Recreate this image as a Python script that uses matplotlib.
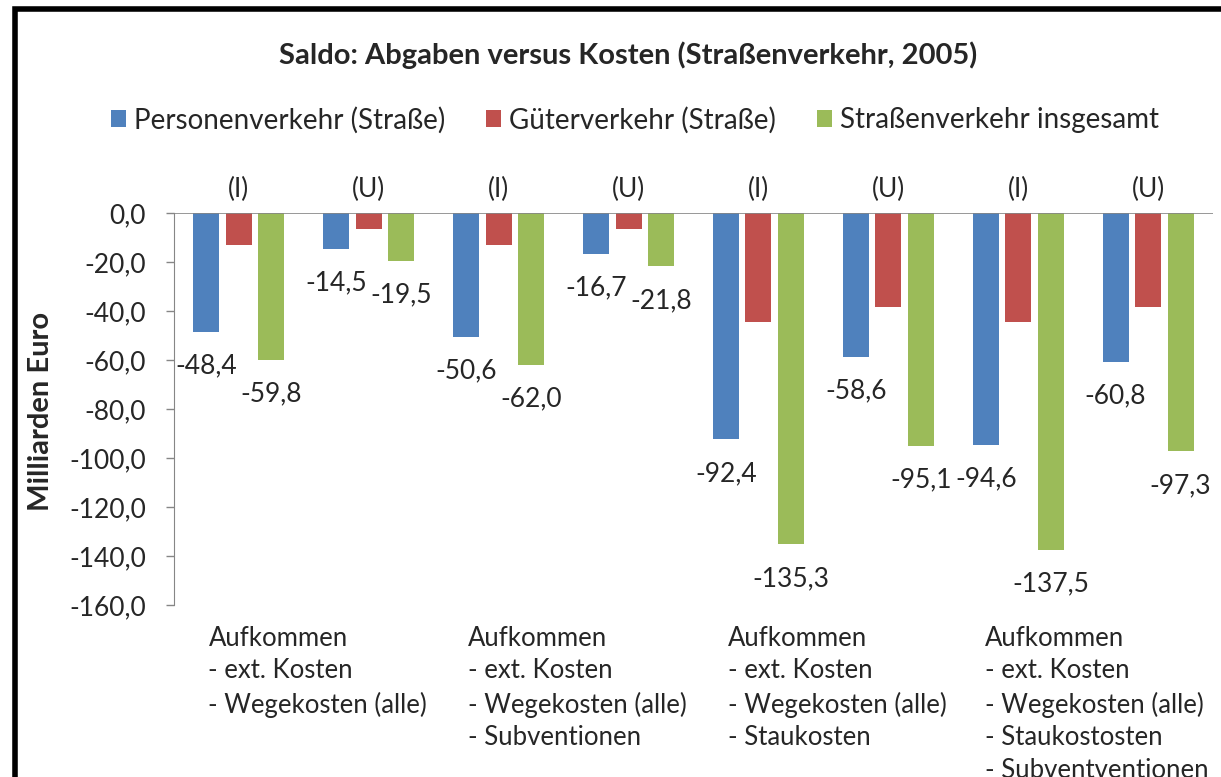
import matplotlib
matplotlib.use('Agg')
import matplotlib.pyplot as plt
from matplotlib.patches import Rectangle
from matplotlib.ticker import FuncFormatter
from matplotlib.transforms import ScaledTranslation
import numpy as np

plt.rcParams['font.family'] = ['Lato', 'DejaVu Sans']

# --- data ---
series_names = ['Personenverkehr (Straße)', 'Güterverkehr (Straße)', 'Straßenverkehr insgesamt']
group_tags = ['(I)', '(U)', '(I)', '(U)', '(I)', '(U)', '(I)', '(U)']
personen = [-48.4, -14.5, -50.6, -16.7, -92.4, -58.6, -94.6, -60.8]
gueter = [-13.2, -6.7, -13.2, -6.7, -44.4, -38.2, -44.4, -38.2]
gesamt = [-59.8, -19.5, -62.0, -21.8, -135.3, -95.1, -137.5, -97.3]
scenario_labels = [
    'Aufkommen\n- ext. Kosten\n- Wegekosten (alle)',
    'Aufkommen\n- ext. Kosten\n- Wegekosten (alle)\n- Subventionen',
    'Aufkommen\n- ext. Kosten\n- Wegekosten (alle)\n- Staukosten',
    'Aufkommen\n- ext. Kosten\n- Wegekosten (alle)\n- Staukostosten\n- Subventventionen',
]
y_ticks = [0, -20, -40, -60, -80, -100, -120, -140, -160]

colors = ['#4F81BD', '#C0504D', '#9BBB59']
text_color = '#262626'
axis_color = '#868686'

W, H = 1221, 777
fig = plt.figure(figsize=(W / 100, H / 100), dpi=100)
ax = fig.add_axes([174 / W, 1 - 605 / H, (1213 - 174) / W, (605 - 213) / H])

x = np.arange(len(personen))
width = 0.2
step = 0.25
bars = []
for i, (vals, name) in enumerate(zip([personen, gueter, gesamt], series_names)):
    b = ax.bar(x + (i - 1) * step, vals, width, color=colors[i], label=name, zorder=2)
    bars.append(b)

# value labels only for Personenverkehr and insgesamt
for b in (bars[0], bars[2]):
    for rect in b:
        v = rect.get_height()
        ax.annotate(f'{v:.1f}'.replace('.', ','),
                    (rect.get_x() + rect.get_width() / 2, v),
                    xytext=(0, -34), textcoords='offset pixels',
                    ha='center', va='center', fontsize=19, color=text_color)

# (I)/(U) tags above each group
for xi, tag in zip(x, group_tags):
    ax.annotate(tag, (xi, 0), xytext=(0, 24), textcoords='offset pixels',
                ha='center', va='center', fontsize=19, color=text_color,
                annotation_clip=False)

ax.set_ylim(-160, 0)
ax.set_xlim(-0.5, 7.5)
ax.set_yticks(y_ticks)
ax.yaxis.set_major_formatter(FuncFormatter(lambda v, p: f'{v:.1f}'.replace('.', ',')))
ax.tick_params(axis='y', labelsize=19, labelcolor=text_color, color=axis_color,
               length=6, width=1, pad=14)

ax.set_xticks([0.5, 2.5, 4.5, 6.5])
ax.set_xticklabels(scenario_labels, fontsize=18.5, color=text_color,
                   multialignment='left', linespacing=1.38, va='top')
ax.tick_params(axis='x', length=0, pad=15)
# category blocks sit a little right of the pair centre in the original
shift = ScaledTranslation(0.14, 0, fig.dpi_scale_trans)
for lbl in ax.get_xticklabels():
    lbl.set_transform(lbl.get_transform() + shift)

for side in ('top', 'right', 'bottom'):
    ax.spines[side].set_visible(False)
ax.spines['left'].set_color(axis_color)
ax.axhline(0, color=axis_color, lw=1.2, zorder=3)

ax.set_ylabel('Milliarden Euro', fontsize=21, fontweight='bold', color=text_color,
              va='center')
ax.yaxis.set_label_coords(41 / W, 1 - 411 / H, transform=fig.transFigure)

fig.text(628 / W, 1 - 55 / H, 'Saldo: Abgaben versus Kosten (Straßenverkehr, 2005)',
         ha='center', va='center', fontsize=21, fontweight='bold', color=text_color)

fig.legend(loc='center', bbox_to_anchor=(635 / W, 1 - 120 / H), ncol=3, frameon=False,
           fontsize=20, handlelength=0.55, handleheight=0.55, handletextpad=0.3,
           columnspacing=1.45, labelcolor=text_color)

# black frame around the chart (cut off at right and bottom)
fig.patches.append(Rectangle((15 / W, -0.1), 1.2, 1 - 9 / H + 0.1,
                             transform=fig.transFigure, fill=False,
                             edgecolor='black', lw=4, zorder=10))

fig.savefig('out.png', dpi=100)
